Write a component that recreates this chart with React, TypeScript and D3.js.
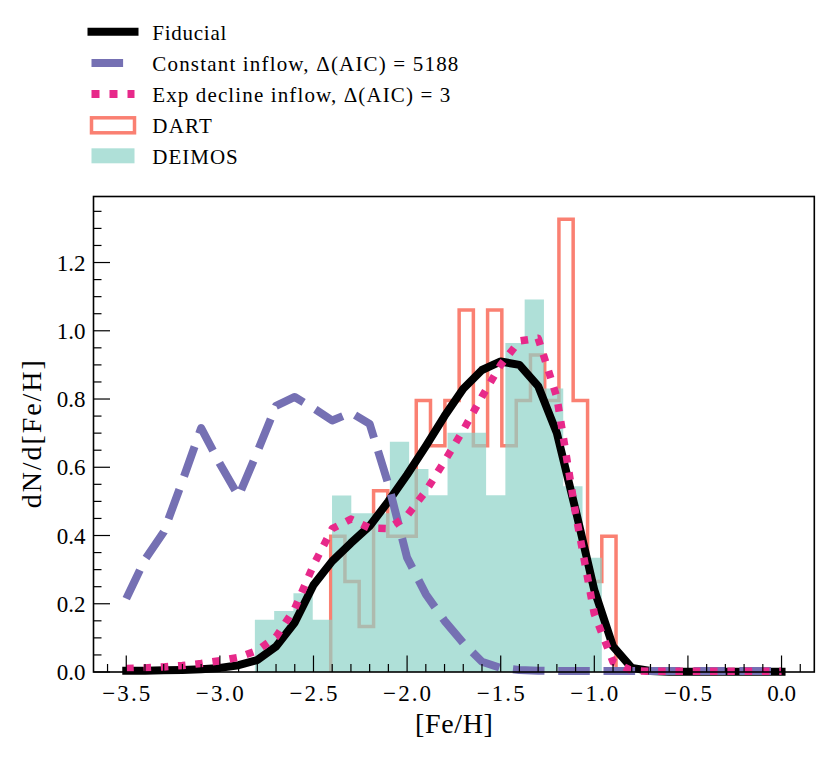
import React from 'react';
import * as d3 from 'd3';

// ---------- data ----------
const modelFeH = [
  -3.5, -3.4, -3.3, -3.2, -3.1, -3.0, -2.9, -2.8, -2.7, -2.6, -2.5, -2.4,
  -2.3, -2.2, -2.1, -2.0, -1.9, -1.8, -1.7, -1.6, -1.5, -1.4, -1.3, -1.2,
  -1.1, -1.0, -0.9, -0.8, -0.7, -0.6, -0.5, -0.4, -0.3, -0.2, -0.1, 0.0,
];
const fiducial = [
  0.004, 0.004, 0.005, 0.006, 0.008, 0.012, 0.02, 0.035, 0.075, 0.145, 0.255, 0.325,
  0.378, 0.428, 0.5, 0.578, 0.662, 0.75, 0.83, 0.885, 0.91, 0.9, 0.838, 0.7,
  0.475, 0.24, 0.075, 0.012, 0.003, 0.001, 0.001, 0.001, 0.001, 0.001, 0.001, 0.001,
];
const constantInflow = [
  0.215, 0.33, 0.41, 0.56, 0.715, 0.61, 0.515, 0.645, 0.78, 0.806, 0.773, 0.737,
  0.76, 0.727, 0.55, 0.335, 0.228, 0.15, 0.085, 0.03, 0.012, 0.006, 0.004, 0.003,
  0.003, 0.003, 0.003, 0.003, 0.003, 0.003, 0.003, 0.003, 0.003, 0.003, 0.003, 0.003,
];
const expDecline = [
  0.01, 0.012, 0.015, 0.019, 0.025, 0.033, 0.043, 0.063, 0.103, 0.186, 0.313, 0.42,
  0.448, 0.422, 0.42, 0.458, 0.53, 0.618, 0.709, 0.807, 0.9, 0.97, 0.978, 0.805,
  0.465, 0.17, 0.03, 0.004, 0.002, 0.002, 0.002, 0.002, 0.002, 0.002, 0.002, 0.002,
];

const dartEdges = [
  -2.408, -2.332, -2.256, -2.179, -2.103, -2.027, -1.951, -1.875, -1.798, -1.722,
  -1.646, -1.570, -1.494, -1.417, -1.341, -1.265, -1.189, -1.113, -1.036, -0.960, -0.884,
];
const dartDensity = [
  0.398, 0.265, 0.133, 0.531, 0.398, 0.398, 0.796, 0.663, 0.796, 1.061,
  0.663, 1.061, 0.663, 0.796, 0.929, 0.796, 1.327, 0.796, 0.265, 0.398,
];

const deimosEdges = [
  -2.813, -2.710, -2.607, -2.504, -2.401, -2.298, -2.195, -2.092, -1.989, -1.886,
  -1.784, -1.681, -1.578, -1.475, -1.372, -1.269, -1.166, -1.063, -0.960,
];
const deimosDensity = [
  0.153, 0.179, 0.231, 0.153, 0.517, 0.465, 0.465, 0.675, 0.595, 0.518,
  0.701, 0.701, 0.518, 0.964, 1.092, 0.831, 0.544, 0.335,
];

const xMajorTicks = [-3.5, -3.0, -2.5, -2.0, -1.5, -1.0, -0.5, 0.0];
const xTickLabels = ['−3.5', '−3.0', '−2.5', '−2.0', '−1.5', '−1.0', '−0.5', '0.0'];
const yMajorTicks = [0, 0.2, 0.4, 0.6, 0.8, 1.0, 1.2];
const yTickLabels = ['0.0', '0.2', '0.4', '0.6', '0.8', '1.0', '1.2'];

const legendLabels = [
  'Fiducial',
  'Constant inflow, Δ(AIC) = 5188',
  'Exp decline inflow, Δ(AIC) = 3',
  'DART',
  'DEIMOS',
];
const legendWidths = [74, 306, 298, 59.5, 85.5];

// ---------- style ----------
const W = 830;
const H = 758;
const plot = { left: 93.5, right: 814.3, top: 196.5, bottom: 672 };
const FONT = "'Liberation Serif', 'DejaVu Serif', serif";
const C_BLACK = '#000000';
const C_PURPLE = '#7570b3';
const C_PINK = '#e7298a';
const C_DART = '#fa8072';
const C_DEIMOS = '#8dd3c7';

export default function App() {
  const x = d3.scaleLinear().domain([-3.675, 0.175]).range([plot.left, plot.right]);
  const y = d3.scaleLinear().domain([0, 1.3935]).range([plot.bottom, plot.top]);

  const xMinor = d3.range(-36, 2)
    .filter((i) => i % 5 !== 0)
    .map((i) => i / 10);
  const yMinor = d3.range(0, 28)
    .filter((i) => i % 4 !== 0)
    .map((i) => i * 0.05);

  const line = d3.line<[number, number]>()
    .x((d) => x(d[0]))
    .y((d) => y(d[1]));

  const pts = (vals: number[]) => modelFeH.map((v, i) => [v, vals[i]] as [number, number]);

  // DART step outline
  const dartPts: [number, number][] = [[dartEdges[0], 0]];
  dartDensity.forEach((v, i) => {
    dartPts.push([dartEdges[i], v]);
    dartPts.push([dartEdges[i + 1], v]);
  });
  dartPts.push([dartEdges[dartEdges.length - 1], 0]);

  // DEIMOS filled steps
  const deimosPts: [number, number][] = deimosDensity.map((v, i) => [deimosEdges[i], v] as [number, number]);
  deimosPts.push([deimosEdges[deimosEdges.length - 1], deimosDensity[deimosDensity.length - 1]]);
  const area = d3.area<[number, number]>()
    .x((d) => x(d[0]))
    .y0(y(0))
    .y1((d) => y(d[1]))
    .curve(d3.curveStepAfter);

  const legBase = (i: number) => 39.5 + 31 * i;
  const hx0 = 91.5;
  const hx1 = 134.5;

  return (
    <svg width={W} height={H} style={{ position: 'absolute', left: 0, top: 0, background: '#fff' }}
      xmlns="http://www.w3.org/2000/svg">
      <rect x={0} y={0} width={W} height={H} fill="#ffffff" />

      {/* Legend */}
      <g>
        <line x1={hx0} x2={hx1} y1={legBase(0) - 7.8} y2={legBase(0) - 7.8}
          stroke={C_BLACK} strokeWidth={8} strokeLinecap="square" />
        <line x1={hx0} x2={hx1} y1={legBase(1) - 7.5} y2={legBase(1) - 7.5}
          stroke={C_PURPLE} strokeWidth={8} strokeDasharray="31.6 13.7" />
        <line x1={hx0} x2={hx1} y1={legBase(2) - 7.5} y2={legBase(2) - 7.5}
          stroke={C_PINK} strokeWidth={8} strokeDasharray="8 10" />
        <rect x={hx0} y={legBase(3) - 14.7} width={hx1 - hx0} height={15}
          fill="none" stroke={C_DART} strokeWidth={3.5} />
        <rect x={hx0} y={legBase(4) - 15.2} width={hx1 - hx0} height={15}
          fill={C_DEIMOS} fillOpacity={0.7} />
        {legendLabels.map((t, i) => (
          <text key={t} x={152.3} y={legBase(i)} fontFamily={FONT} fontSize={21}
            textLength={legendWidths[i]} lengthAdjust="spacing" fill="#000">{t}</text>
        ))}
      </g>

      {/* Histograms */}
      <path d={line(dartPts) || ''} fill="none" stroke={C_DART} strokeWidth={3.5} strokeLinejoin="miter" />
      <path d={area(deimosPts) || ''} fill={C_DEIMOS} fillOpacity={0.7} stroke="none" />

      {/* Model lines */}
      <path d={line(pts(fiducial)) || ''} fill="none" stroke={C_BLACK} strokeWidth={8}
        strokeLinejoin="round" strokeLinecap="square" />
      <path d={line(pts(constantInflow)) || ''} fill="none" stroke={C_PURPLE} strokeWidth={8}
        strokeLinejoin="round" strokeDasharray="31.6 13.7" />
      <path d={line(pts(expDecline)) || ''} fill="none" stroke={C_PINK} strokeWidth={7.5}
        strokeLinejoin="round" strokeDasharray="7.5 9.8" />

      {/* Ticks */}
      <g stroke="#000" strokeWidth={1.2}>
        {xMajorTicks.map((t) => (
          <line key={'xM' + t} x1={x(t)} x2={x(t)} y1={plot.bottom} y2={plot.bottom - 16.5} />
        ))}
        {xMinor.map((t) => (
          <line key={'xm' + t} x1={x(t)} x2={x(t)} y1={plot.bottom} y2={plot.bottom - 8} />
        ))}
        {yMajorTicks.map((t) => (
          <line key={'yM' + t} x1={plot.left} x2={plot.left + 16.5} y1={y(t)} y2={y(t)} />
        ))}
        {yMinor.map((t) => (
          <line key={'ym' + t} x1={plot.left} x2={plot.left + 8} y1={y(t)} y2={y(t)} />
        ))}
      </g>

      {/* Frame */}
      <rect x={plot.left} y={plot.top} width={plot.right - plot.left} height={plot.bottom - plot.top}
        fill="none" stroke="#000" strokeWidth={1.6} />

      {/* Tick labels */}
      {xMajorTicks.map((t, i) => (
        <text key={'xl' + t} x={x(t)} y={701} textAnchor="middle" fontFamily={FONT} fontSize={23}
          {...(xTickLabels[i].startsWith('−') ? { textLength: 48, lengthAdjust: 'spacing' } : {})}
          fill="#000">{xTickLabels[i]}</text>
      ))}
      {yMajorTicks.map((t, i) => (
        <text key={'yl' + t} x={85.5} y={y(t) + 8} textAnchor="end" fontFamily={FONT} fontSize={23}
          fill="#000">{yTickLabels[i]}</text>
      ))}

      {/* Axis labels */}
      <text x={(plot.left + plot.right) / 2} y={733} textAnchor="middle" fontFamily={FONT} fontSize={28}
        textLength={78} lengthAdjust="spacing" fill="#000">[Fe/H]</text>
      <text transform={`translate(41, ${(plot.top + plot.bottom) / 2}) rotate(-90)`} textAnchor="middle"
        fontFamily={FONT} fontSize={28} textLength={148} lengthAdjust="spacing" fill="#000">dN/d[Fe/H]</text>
    </svg>
  );
}
